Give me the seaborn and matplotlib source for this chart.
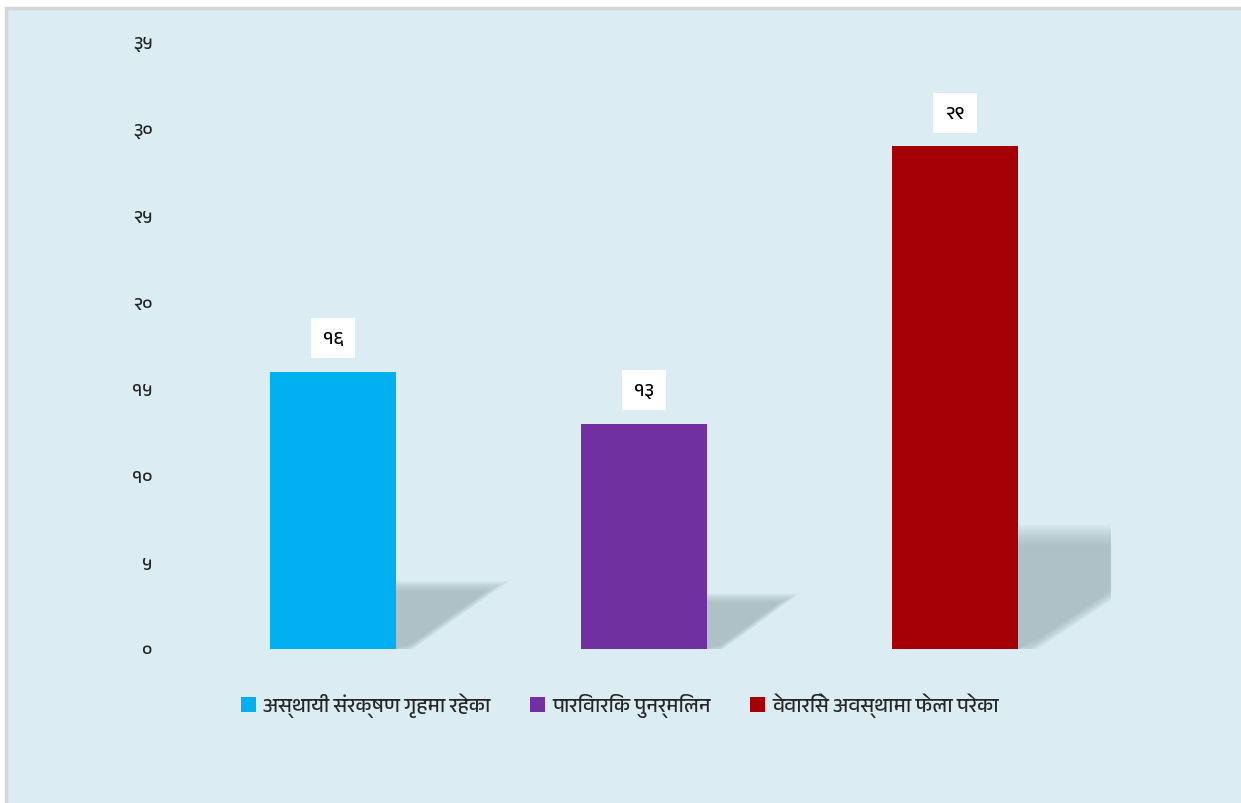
import matplotlib
matplotlib.use("Agg")
import matplotlib.pyplot as plt
import seaborn as sns
import pandas as pd
from matplotlib import font_manager
from matplotlib.ft2font import FT2Font
from matplotlib.patches import Polygon, Rectangle, Patch

# ---------------- data ----------------
categories = ["अस्थायी संरक्षण गृहमा रहेका", "पारिवारिक पुनर्मिलन", "वेवारिसे अवस्थामा फेला परेका"]
values = [16, 13, 29]
colors = ["#00B0F0", "#7030A0", "#A50005"]
ytick_values = [0, 5, 10, 15, 20, 25, 30, 35]
ytick_labels = ["०", "५", "१०", "१५", "२०", "२५", "३०", "३५"]

DEV_DIGITS = str.maketrans("0123456789", "०१२३४५६७८९")

# ---------------- font ----------------
def find_font(ch):
    seen = set()
    cands = []
    for f in font_manager.fontManager.ttflist:
        if f.fname in seen:
            continue
        seen.add(f.fname)
        try:
            ft = FT2Font(f.fname)
            if ord(ch) in ft.get_charmap():
                name = f.name
                low = name.lower()
                if "devanagari" in low or "lohit" in low or "mukta" in low:
                    rank = 0
                elif "mono" in low or "code" in low:
                    rank = 3
                elif "serif" in low:
                    rank = 2
                else:
                    rank = 1
                cands.append((rank, name))
        except Exception:
            pass
    if not cands:
        return None
    cands.sort()
    return cands[0][1]

sns.set_theme(style="white")
deva = find_font("अ")
families = ([deva] if deva else []) + ["DejaVu Sans"]
plt.rcParams["font.family"] = families

BG = "#DBEDF3"

fig = plt.figure(figsize=(12.41, 8.04), dpi=100, facecolor="white")
# chart area background with thin grey border
fig.patches.append(Rectangle((6 / 1241, -0.01), 1.02, (795 / 804) + 0.01,
                             transform=fig.transFigure, facecolor=BG,
                             edgecolor="#D6D6D6", linewidth=2.5, zorder=-5))

ax = fig.add_axes([177.5 / 1241, 154 / 804, 933 / 1241, 607 / 804])
ax.set_facecolor("none")
ax.set_zorder(2)

df = pd.DataFrame({"cat": categories, "val": values})
sns.barplot(data=df, x="cat", y="val", hue="cat", palette=colors,
            width=0.405, saturation=1, legend=False, ax=ax, zorder=3,
            linewidth=0, edgecolor="none")

ax.set_xlim(-0.5, 2.5)
ax.set_ylim(0, 35)

# soft cast shadows to the right of each bar (derived from bar geometry)
half_w = 0.405 / 2
rise_k = 0.228
run_k = 0.0205
n_layers = 14
for i, v in enumerate(values):
    xr = i + half_w
    rise = v * rise_k
    run = v * run_k
    base = [(xr, 0), (xr, rise), (xr + run, rise), (xr + 0.04, 0)]
    cx = xr + run * 0.35
    cy = rise * 0.55
    for k in range(n_layers):
        s = 1.18 - 0.03 * k
        pts = [(cx + (px - cx) * s, cy + (py - cy) * s) for px, py in base]
        pts[0] = (xr, 0)
        pts[1] = (xr, pts[1][1])
        ax.add_patch(Polygon(pts, closed=True, facecolor="#98ACB3",
                             edgecolor="none", alpha=0.065, zorder=2))

# value labels in white boxes
for i, v in enumerate(values):
    ax.annotate(str(v).translate(DEV_DIGITS), xy=(i, v), xytext=(0, 24),
                textcoords="offset points", ha="center", va="center",
                fontsize=14, fontweight="bold", color="black",
                bbox=dict(boxstyle="square,pad=0.62", facecolor="white",
                          edgecolor="none"), zorder=5)

ax.set_yticks(ytick_values)
ax.set_yticklabels(ytick_labels, fontsize=13.5, color="#222222")
ax.set_xticks([])
ax.tick_params(axis="y", length=0, pad=18)
ax.set_xlabel("")
ax.set_ylabel("")
for sp in ax.spines.values():
    sp.set_visible(False)
ax.grid(False)

handles = [Patch(facecolor=c, edgecolor="none") for c in colors]
fig.legend(handles, categories, loc="center", bbox_to_anchor=(620 / 1241, 98 / 804),
           ncol=3, frameon=False, fontsize=14.5, handlelength=0.75, handleheight=0.75,
           handletextpad=0.35, columnspacing=1.95)

fig.savefig("out.png", dpi=100, facecolor="white")
